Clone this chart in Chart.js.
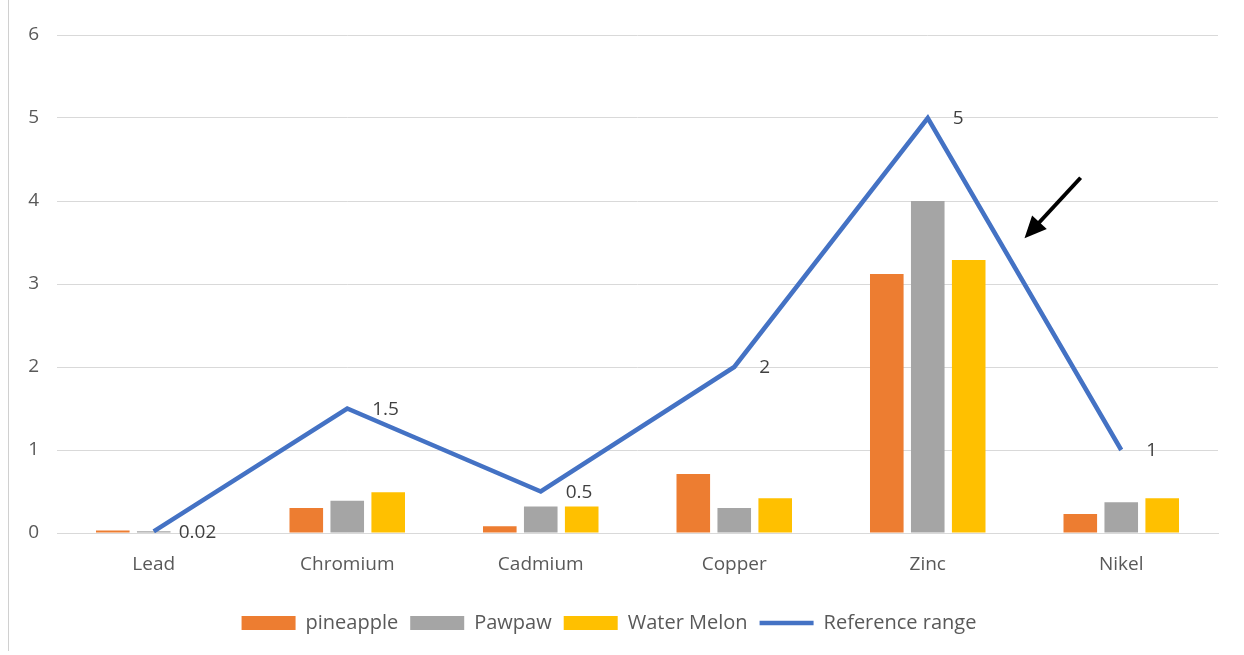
<!DOCTYPE html>
<html>
<head>
<meta charset="utf-8">
<script src="https://cdn.jsdelivr.net/npm/chart.js@4/dist/chart.umd.min.js"></script>
<style>
  html, body { margin: 0; padding: 0; background: #fff; }
  #wrap { position: relative; width: 1244px; height: 655px; }
  #wrap:before { content: ''; position: absolute; left: 8px; top: 0; bottom: 4px; border-left: 1px solid #d0d0d0; }
</style>
</head>
<body>
<div id="wrap"><canvas id="metalChart" width="1244" height="655"></canvas></div>
<script>
const metals = ['Lead', 'Chromium', 'Cadmium', 'Copper', 'Zinc', 'Nikel'];
const pineapple = [0.03, 0.30, 0.08, 0.71, 3.12, 0.23];
const pawpaw = [0.02, 0.39, 0.32, 0.30, 4.00, 0.37];
const waterMelon = [0, 0.49, 0.32, 0.42, 3.29, 0.42];
const referenceRange = [0.02, 1.5, 0.5, 2, 5, 1];
const referenceLabels = ['0.02', '1.5', '0.5', '2', '5', '1'];
const yTicks = [0, 1, 2, 3, 4, 5, 6];

const FONT = "'Open Sans', 'Noto Sans', sans-serif";

// value labels beside the reference line + the black arrow
const extras = {
    id: 'extras',
    afterDatasetsDraw(chart) {
        const ctx = chart.ctx;
        const meta = chart.getDatasetMeta(3);
        ctx.save();
        ctx.font = '19px ' + FONT;
        ctx.fillStyle = '#404040';
        ctx.textBaseline = 'middle';
        ctx.textAlign = 'left';
        meta.data.forEach((pt, i) => {
            ctx.fillText(referenceLabels[i], pt.x + 25, pt.y + 1);
        });

        const xs = chart.scales.x, ys = chart.scales.y;
        const x0 = xs.getPixelForValue(4.79), y0 = ys.getPixelForValue(4.28);
        const x1 = xs.getPixelForValue(4.5), y1 = ys.getPixelForValue(3.55);
        const ang = Math.atan2(y1 - y0, x1 - x0);
        ctx.strokeStyle = '#000';
        ctx.fillStyle = '#000';
        ctx.lineWidth = 4;
        ctx.beginPath();
        ctx.moveTo(x0, y0);
        ctx.lineTo(x1 - 10 * Math.cos(ang), y1 - 10 * Math.sin(ang));
        ctx.stroke();
        ctx.beginPath();
        ctx.moveTo(x1, y1);
        ctx.lineTo(x1 - 22 * Math.cos(ang) + 10 * Math.sin(ang), y1 - 22 * Math.sin(ang) - 10 * Math.cos(ang));
        ctx.lineTo(x1 - 22 * Math.cos(ang) - 10 * Math.sin(ang), y1 - 22 * Math.sin(ang) + 10 * Math.cos(ang));
        ctx.closePath();
        ctx.fill();
        ctx.restore();
    }
};

const barOpts = { categoryPercentage: 0.635, barPercentage: 0.82, borderWidth: 0, pointStyle: 'rect' };

new Chart(document.getElementById('metalChart'), {
    data: {
        labels: metals,
        datasets: [
            Object.assign({ type: 'bar', label: 'pineapple', data: pineapple, backgroundColor: '#ED7D31', order: 2 }, barOpts),
            Object.assign({ type: 'bar', label: 'Pawpaw', data: pawpaw, backgroundColor: '#A5A5A5', order: 2 }, barOpts),
            Object.assign({ type: 'bar', label: 'Water Melon', data: waterMelon, backgroundColor: '#FFC000', order: 2 }, barOpts),
            {
                type: 'line',
                label: 'Reference range',
                data: referenceRange,
                borderColor: '#4472C4',
                backgroundColor: '#4472C4',
                borderWidth: 4.5,
                pointRadius: 0,
                pointStyle: 'line',
                tension: 0,
                order: 1
            }
        ]
    },
    options: {
        responsive: false,
        animation: false,
        layout: { padding: { top: 35, right: 26, bottom: 12, left: 0 } },
        scales: {
            x: {
                grid: { display: false, drawTicks: false },
                border: { display: true, color: '#d9d9d9', width: 1 },
                ticks: { padding: 20, color: '#595959', font: { family: FONT, size: 19 } },
                afterFit(s) { s.height = 68; }
            },
            y: {
                min: 0,
                max: 6,
                afterBuildTicks(s) { s.ticks = yTicks.map(v => ({ value: v })); },
                grid: { color: '#d9d9d9', drawTicks: false },
                border: { display: false },
                ticks: { padding: 18, color: '#595959', font: { family: FONT, size: 19 } },
                afterFit(s) { s.width = 57; }
            }
        },
        plugins: {
            legend: {
                position: 'bottom',
                labels: {
                    usePointStyle: true,
                    pointStyleWidth: 54,
                    boxHeight: 14,
                    padding: 12,
                    color: '#595959',
                    font: { family: FONT, size: 20 },
                    sort: (a, b) => a.datasetIndex - b.datasetIndex
                }
            },
            tooltip: { enabled: false }
        }
    },
    plugins: [extras]
});
</script>
</body>
</html>
